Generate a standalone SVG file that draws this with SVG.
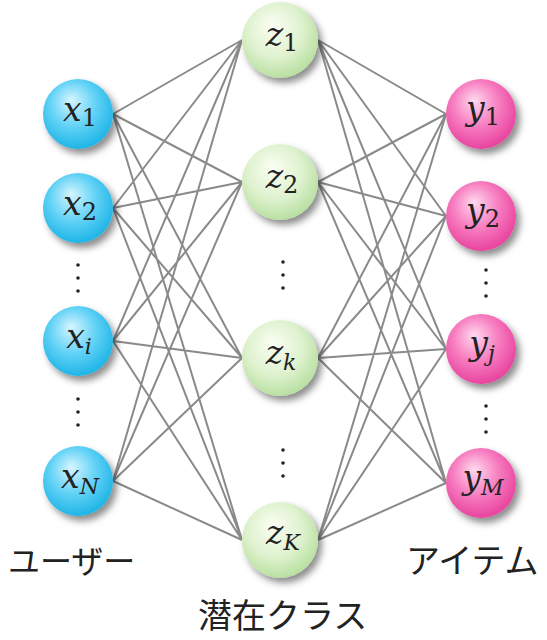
<svg xmlns="http://www.w3.org/2000/svg" width="547" height="640" viewBox="0 0 547 640">
<defs>
<radialGradient id="gb" cx="0.45" cy="0.4" r="0.6" fx="0.4" fy="0.3">
<stop offset="0" stop-color="#d6f5ff"/><stop offset="0.55" stop-color="#62d2f6"/><stop offset="1" stop-color="#1fb5e6"/>
</radialGradient>
<radialGradient id="gg" cx="0.45" cy="0.4" r="0.6" fx="0.4" fy="0.3">
<stop offset="0" stop-color="#fbfef4"/><stop offset="0.6" stop-color="#dff2cf"/><stop offset="1" stop-color="#b9e0a2"/>
</radialGradient>
<radialGradient id="gp" cx="0.45" cy="0.4" r="0.6" fx="0.4" fy="0.3">
<stop offset="0" stop-color="#ffd9ee"/><stop offset="0.55" stop-color="#f77cc0"/><stop offset="1" stop-color="#e8449e"/>
</radialGradient>
<filter id="sh" x="-30%" y="-30%" width="170%" height="170%">
<feDropShadow dx="4" dy="5" stdDeviation="3.5" flood-color="#000" flood-opacity="0.45"/>
</filter>
</defs>
<style>
.e{stroke:#8a8a8a;stroke-width:2;fill:none}
.b{fill:url(#gb);filter:url(#sh)}
.g{fill:url(#gg);filter:url(#sh)}
.p{fill:url(#gp);filter:url(#sh)}
.m{font-family:'DejaVu Serif',serif;font-style:italic;font-size:33px;fill:#222;text-anchor:middle}
.s{font-style:normal;font-size:24px}
.si{font-size:22px}
.d{fill:#222}
.j{font-family:'Noto Sans CJK JP','Noto Sans CJK SC',sans-serif;fill:#222}
</style>
<g id="connectors">
<path class="e" d="M113 114L242 40M113 114L242 182M113 114L242 358M113 114L242 540M113 208L242 40M113 208L242 182M113 208L242 358M113 208L242 540M113 341L242 40M113 341L242 182M113 341L242 358M113 341L242 540M113 481L242 40M113 481L242 182M113 481L242 358M113 481L242 540"/>
<path class="e" d="M318 40L446 114M318 40L446 216M318 40L446 349M318 40L446 483M318 182L446 114M318 182L446 216M318 182L446 349M318 182L446 483M318 358L446 114M318 358L446 216M318 358L446 349M318 358L446 483M318 540L446 114M318 540L446 216M318 540L446 349M318 540L446 483"/>
</g>
<g id="x1"><circle class="b" cx="78" cy="114" r="35"/><text class="m" x="80" y="121">x<tspan class="s" dy="5">1</tspan></text></g>
<g id="x2"><circle class="b" cx="78" cy="208" r="35"/><text class="m" x="80" y="215">x<tspan class="s" dy="5">2</tspan></text></g>
<g id="xi"><circle class="b" cx="78" cy="341" r="35"/><text class="m" x="79" y="348">x<tspan class="si" dy="6">i</tspan></text></g>
<g id="xN"><circle class="b" cx="78" cy="481" r="35"/><text class="m" x="80" y="488">x<tspan class="si" dy="6">N</tspan></text></g>
<g id="z1"><circle class="g" cx="280" cy="40" r="38"/><text class="m" x="282" y="46">z<tspan class="s" dy="5">1</tspan></text></g>
<g id="z2"><circle class="g" cx="280" cy="182" r="38"/><text class="m" x="282" y="188">z<tspan class="s" dy="5">2</tspan></text></g>
<g id="zk"><circle class="g" cx="280" cy="358" r="38"/><text class="m" x="281" y="364">z<tspan class="si" dy="6">k</tspan></text></g>
<g id="zK"><circle class="g" cx="280" cy="540" r="38"/><text class="m" x="283" y="544">z<tspan class="si" dy="6">K</tspan></text></g>
<g id="y1"><circle class="p" cx="481" cy="114" r="35"/><text class="m" x="483" y="120">y<tspan class="s" dy="5">1</tspan></text></g>
<g id="y2"><circle class="p" cx="481" cy="216" r="35"/><text class="m" x="483" y="222">y<tspan class="s" dy="5">2</tspan></text></g>
<g id="yj"><circle class="p" cx="481" cy="349" r="35"/><text class="m" x="482" y="355">y<tspan class="si" dy="6">j</tspan></text></g>
<g id="yM"><circle class="p" cx="481" cy="483" r="35"/><text class="m" x="483" y="489">y<tspan class="si" dy="6">M</tspan></text></g>
<g id="dots">
<circle class="d" cx="78" cy="265" r="1.8"/><circle class="d" cx="78" cy="278" r="1.8"/><circle class="d" cx="78" cy="291" r="1.8"/>
<circle class="d" cx="78" cy="399" r="1.8"/><circle class="d" cx="78" cy="412" r="1.8"/><circle class="d" cx="78" cy="425" r="1.8"/>
<circle class="d" cx="283" cy="262" r="1.8"/><circle class="d" cx="283" cy="275" r="1.8"/><circle class="d" cx="283" cy="288" r="1.8"/>
<circle class="d" cx="283" cy="450" r="1.8"/><circle class="d" cx="283" cy="463" r="1.8"/><circle class="d" cx="283" cy="476" r="1.8"/>
<circle class="d" cx="486" cy="270" r="1.8"/><circle class="d" cx="486" cy="283" r="1.8"/><circle class="d" cx="486" cy="296" r="1.8"/>
<circle class="d" cx="486" cy="406" r="1.8"/><circle class="d" cx="486" cy="419" r="1.8"/><circle class="d" cx="486" cy="432" r="1.8"/>
</g>
<g id="labels">
<text class="j" x="8" y="573" font-size="32">ユーザー</text>
<text class="j" x="406" y="573" font-size="34">アイテム</text>
<text class="j" x="198" y="628" font-size="34">潜在クラス</text>
</g>
</svg>
